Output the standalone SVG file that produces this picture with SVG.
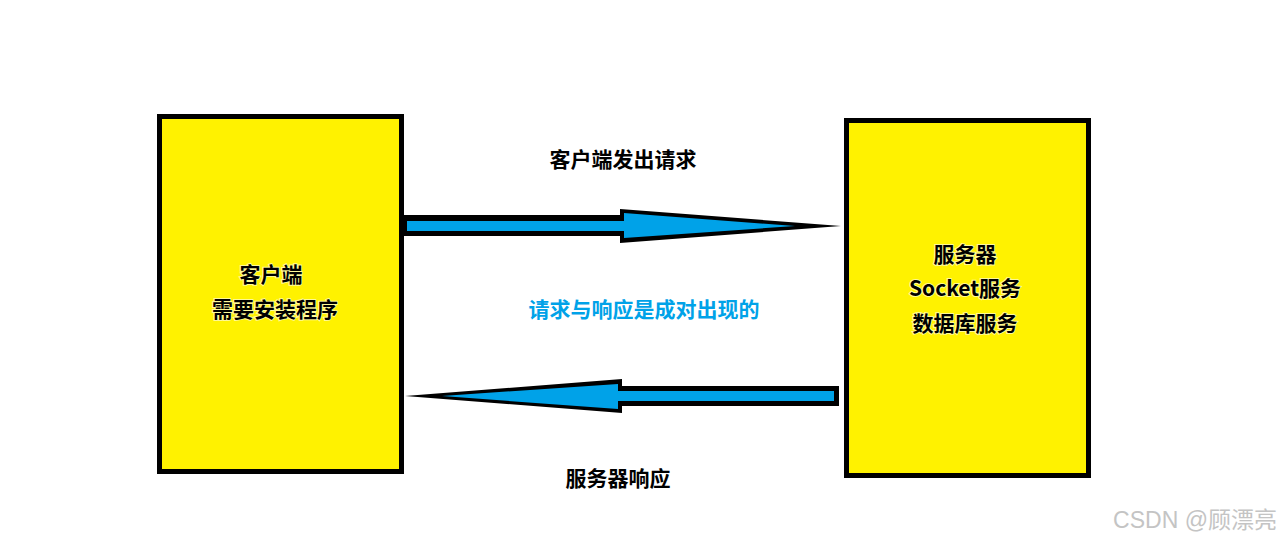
<svg xmlns="http://www.w3.org/2000/svg" width="1281" height="539" viewBox="0 0 1281 539">
  <style>
    .box { fill: #fff200; stroke: #000; stroke-width: 5; }
    .lbl { font-family: "Noto Sans CJK SC", "Noto Sans", sans-serif; font-weight: bold; font-size: 21px; text-anchor: middle; dominant-baseline: central; }
    .dark { fill: #000; paint-order: stroke; stroke: #fff; stroke-width: 2px; stroke-opacity: 0.6; }
    .blue { fill: #00a2e8; }
    .outline { fill: #000; }
    .core { fill: #00a2e8; }
    .wm { font-family: "Liberation Sans", "Noto Sans CJK SC", sans-serif; font-size: 23px; fill: #c4c4c4; }
  </style>
  <rect width="1281" height="539" fill="#fff"/>
  <g id="connectors">
    <g id="request-arrow">
      <polygon class="outline" points="403,215 620,215 620,209 841,226 620,243 620,236 403,236"/>
      <polygon class="core" points="407,221 624,221 624,213 795,226 624,238 624,231 407,231"/>
    </g>
    <g id="response-arrow">
      <polygon class="outline" points="839,386 622,386 622,379 405,396 622,413 622,406 839,406"/>
      <polygon class="core" points="834,391 618,391 618,384 442,396 618,409 618,401 834,401"/>
    </g>
  </g>
  <g id="client">
    <rect class="box" x="159.5" y="116.5" width="242" height="355"/>
    <text class="lbl dark" x="271" y="273">客户端</text>
    <text class="lbl dark" x="275" y="308">需要安装程序</text>
  </g>
  <g id="server">
    <rect class="box" x="846.5" y="120.5" width="242" height="355"/>
    <text class="lbl dark" x="965" y="253">服务器</text>
    <text class="lbl dark" x="965" y="287">Socket服务</text>
    <text class="lbl dark" x="965" y="322">数据库服务</text>
  </g>
  <g id="labels">
    <text class="lbl" x="623" y="158">客户端发出请求</text>
    <text class="lbl blue" x="644" y="308">请求与响应是成对出现的</text>
    <text class="lbl" x="618" y="477">服务器响应</text>
  </g>
  <text class="wm" x="1277" y="528" text-anchor="end">CSDN @顾漂亮</text>
</svg>
